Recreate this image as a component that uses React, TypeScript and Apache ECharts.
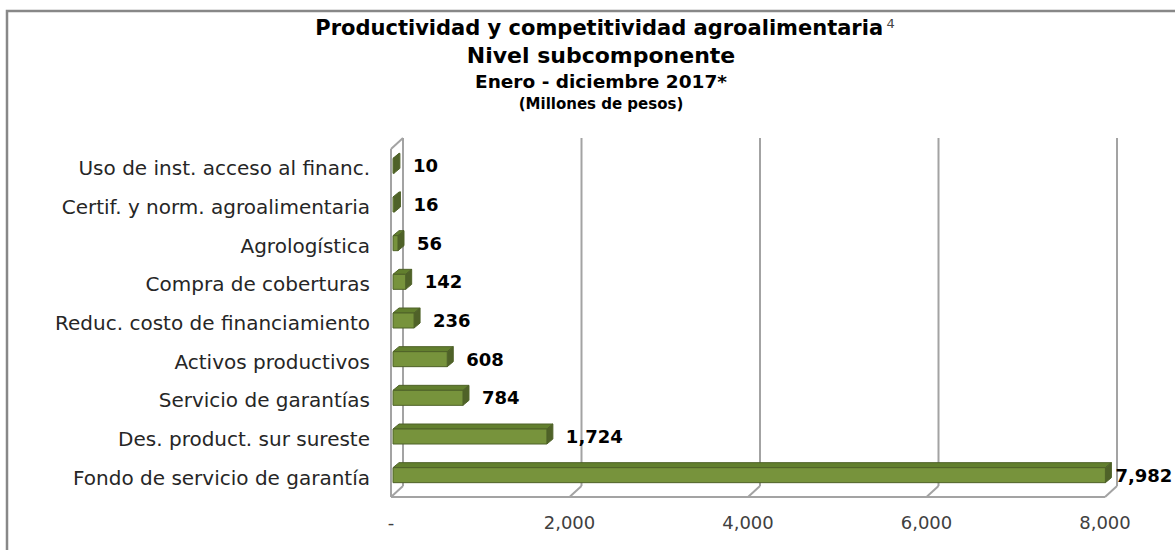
import React, { useEffect, useRef } from "react";
import * as echarts from "echarts";

const categories = [
  "Uso de inst. acceso al financ.",
  "Certif. y norm. agroalimentaria",
  "Agrologística",
  "Compra de coberturas",
  "Reduc. costo de financiamiento",
  "Activos productivos",
  "Servicio de garantías",
  "Des. product. sur sureste",
  "Fondo de servicio de garantía",
];
const values = [10, 16, 56, 142, 236, 608, 784, 1724, 7982];
const xTicks = [0, 2000, 4000, 6000, 8000];
const titleMain = "Productividad y competitividad agroalimentaria";
const titleSup = "4";
const subtitle1 = "Nivel subcomponente";
const subtitle2 = "Enero - diciembre 2017*";
const subtitle3 = "(Millones de pesos)";

const FONT = "DejaVu Sans";
const fmt = (v: number) => (v === 0 ? "-" : v.toLocaleString("en-US"));

export default function App() {
  const ref = useRef<HTMLDivElement>(null);
  useEffect(() => {
    if (!ref.current) return;
    const chart = echarts.init(ref.current, null, { renderer: "svg" });
    const DX = 12, DY = -11; // wall depth
    const FX = 2; // bar front plane offset
    const BX = 6, BY = -5; // bar depth
    const wallStyle = { stroke: "#a3a3a3", lineWidth: 2, fill: "none" };
    const tx = 601;

    chart.setOption({
      animation: false,
      backgroundColor: "#ffffff",
      grid: { left: 391, right: 70, top: 149, bottom: 53, containLabel: false },
      xAxis: {
        type: "value",
        min: 0,
        max: 8000,
        interval: 2000,
        axisLine: { show: false },
        axisTick: { show: false },
        splitLine: { show: false },
        axisLabel: {
          formatter: (v: number) => fmt(v),
          color: "#404040",
          fontSize: 18,
          fontFamily: FONT,
          margin: 16,
        },
      },
      yAxis: {
        type: "category",
        data: categories,
        inverse: true,
        axisLine: { show: false },
        axisTick: { show: false },
        splitLine: { show: false },
        axisLabel: {
          color: "#262626",
          fontSize: 20,
          fontFamily: FONT,
          margin: 21,
        },
      },
      graphic: [
        {
          type: "rect",
          shape: { x: 7, y: 11, width: 1400, height: 800 },
          style: { fill: "none", stroke: "#888888", lineWidth: 2.5 },
          z: -10,
        },
        {
          type: "text",
          x: tx + 4,
          y: 28,
          style: {
            text: `{a|${titleMain}} {s|${titleSup}}`,
            align: "center",
            verticalAlign: "middle",
            rich: {
              a: { fontSize: 21, fontWeight: "bold", fontFamily: FONT, fill: "#000" },
              s: { fontSize: 13, fontFamily: FONT, fill: "#444", verticalAlign: "top", padding: [0, 0, 10, 0] },
            },
          },
        },
        {
          type: "text",
          x: tx,
          y: 55,
          style: { text: subtitle1, align: "center", verticalAlign: "middle", fontSize: 22, fontWeight: "bold", fontFamily: FONT, fill: "#000" },
        },
        {
          type: "text",
          x: tx,
          y: 81,
          style: { text: subtitle2, align: "center", verticalAlign: "middle", fontSize: 18.5, fontWeight: "bold", fontFamily: FONT, fill: "#000" },
        },
        {
          type: "text",
          x: tx,
          y: 104,
          style: { text: subtitle3, align: "center", verticalAlign: "middle", fontSize: 15, fontWeight: "bold", fontFamily: FONT, fill: "#000" },
        },
      ],
      series: [
        {
          type: "custom",
          name: "walls",
          clip: false,
          silent: true,
          z: 1,
          data: [[0, 0]],
          encode: { x: 0, y: 1 },
          renderItem: (params: any, api: any) => {
            const cs = params.coordSys;
            const top = cs.y, bottom = cs.y + cs.height;
            const children: any[] = [];
            xTicks.forEach((t) => {
              const x = api.coord([t, 0])[0];
              children.push({ type: "line", shape: { x1: x + DX, y1: top + DY, x2: x + DX, y2: bottom + DY }, style: wallStyle });
              children.push({ type: "line", shape: { x1: x, y1: bottom, x2: x + DX, y2: bottom + DY }, style: wallStyle });
            });
            const x0 = api.coord([xTicks[0], 0])[0];
            const xN = api.coord([xTicks[xTicks.length - 1], 0])[0];
            children.push({ type: "line", shape: { x1: x0, y1: bottom, x2: xN, y2: bottom }, style: wallStyle });
            children.push({ type: "line", shape: { x1: x0, y1: top, x2: x0, y2: bottom }, style: wallStyle });
            children.push({ type: "line", shape: { x1: x0, y1: top, x2: x0 + DX, y2: top + DY }, style: wallStyle });
            return { type: "group", children };
          },
        },
        {
          type: "custom",
          name: "Millones de pesos",
          clip: false,
          z: 2,
          data: values.map((v, i) => [v, i]),
          encode: { x: 0, y: 1 },
          renderItem: (params: any, api: any) => {
            const v = api.value(0);
            const i = api.value(1);
            const p0 = api.coord([0, i]);
            const p1 = api.coord([v, i]);
            const yc = p0[1];
            const xl = p0[0] + FX, xr = p1[0] + FX;
            const yt = yc - 10, yb = yc + 5;
            const edge = "#4f6228";
            const gap = v > 7000 ? 4 : 13;
            return {
              type: "group",
              children: [
                {
                  type: "polygon",
                  shape: { points: [[xl, yt], [xl + BX, yt + BY], [xr + BX, yt + BY], [xr, yt]] },
                  style: { fill: "#627f2e", stroke: edge, lineWidth: 1 },
                },
                {
                  type: "polygon",
                  shape: { points: [[xr, yt], [xr + BX, yt + BY], [xr + BX, yb + BY], [xr, yb]] },
                  style: { fill: "#4f6228", stroke: edge, lineWidth: 1 },
                },
                {
                  type: "polygon",
                  shape: { points: [[xl, yt], [xr, yt], [xr, yb], [xl, yb]] },
                  style: { fill: "#77933c", stroke: edge, lineWidth: 1 },
                },
                {
                  type: "text",
                  x: xr + BX + gap,
                  y: yc - 2.5,
                  style: {
                    text: fmt(v),
                    align: "left",
                    verticalAlign: "middle",
                    fontSize: 18,
                    fontWeight: "bold",
                    fontFamily: FONT,
                    fill: "#000",
                  },
                },
              ],
            };
          },
        },
      ],
    });
    return () => chart.dispose();
  }, []);
  return <div ref={ref} style={{ position: "absolute", left: 0, top: 0, width: 1175, height: 550 }} />;
}
